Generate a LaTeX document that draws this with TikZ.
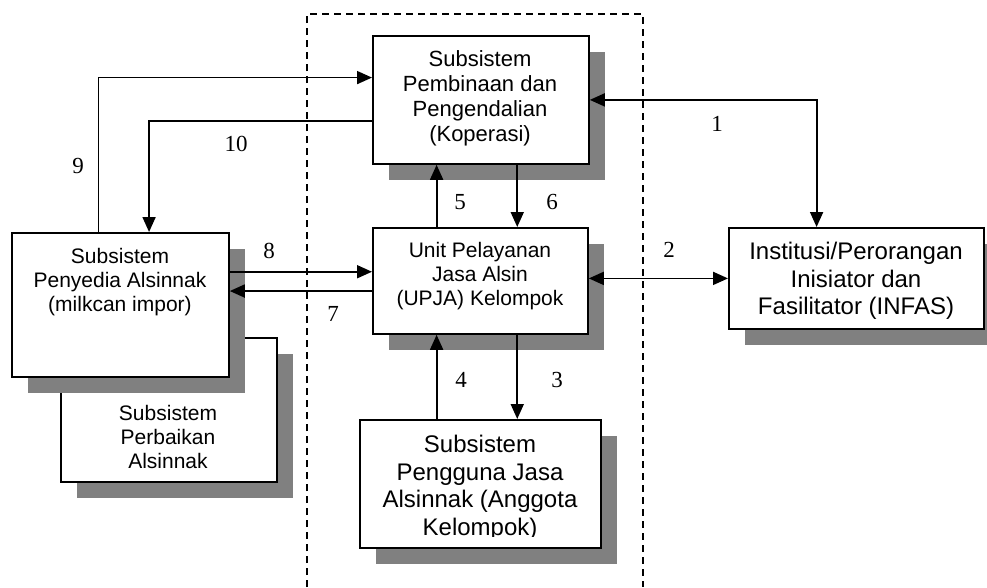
\documentclass[tikz,border=0pt]{standalone}
\usepackage{fontspec}
\setmainfont{Liberation Sans}
\newfontfamily\numfont{Liberation Serif}
\usetikzlibrary{arrows.meta,calc,shadows}
\definecolor{shadowgray}{HTML}{808080}
\begin{document}
\begin{tikzpicture}[x=1pt,y=-1pt,
  boxst/.style={draw,line width=1.8pt,fill=white,inner sep=0pt,anchor=north west,
    drop shadow={shadow xshift=16pt,shadow yshift=-16pt,fill=shadowgray,opacity=1}},
  txt/.style={align=center,inner sep=0pt},
  fa/.style={font=\fontsize{21}{24}\selectfont},
  fb/.style={font=\fontsize{22}{25}\selectfont},
  fc/.style={font=\fontsize{24}{27.5}\selectfont},
  arr/.style={line width=1.8pt,-{Triangle[length=15pt,width=13pt]}},
  darr/.style={line width=1.8pt,{Triangle[length=15pt,width=13pt]}-{Triangle[length=15pt,width=13pt]}},
  num/.style={font=\numfont\fontsize{23}{23}\selectfont,inner sep=0pt},
  dashbox/.style={line width=1.8pt,dash pattern=on 7pt off 5pt},
]
\useasboundingbox (0,0) rectangle (987,587);

% boxes
\node[boxst,minimum width=216pt,minimum height=128pt] (pemb) at (372,35) {};
\node[boxst,minimum width=215pt,minimum height=106pt] (unit) at (372,227) {};
\node[boxst,minimum width=255pt,minimum height=101pt] (infas) at (728,227) {};
\node[boxst,minimum width=241pt,minimum height=128pt] (peng) at (359,419) {};
\node[boxst,minimum width=216pt,minimum height=144pt] (perb) at (60,337) {};
\node[boxst,minimum width=217pt,minimum height=144pt] (peny) at (11,232) {};

% texts
\node[txt,fb] (pembt) at (480,98) {Subsistem\\Pembinaan dan\\Pengendalian\\(Koperasi)};
\node[txt,fa] (unitt) at (480,276.5) {Unit Pelayanan\\Jasa Alsin\\(UPJA) Kelompok};
\node[txt,fc] (infast) at (856,281) {Institusi/Perorangan\\Inisiator dan\\Fasilitator (INFAS)};
\node[txt,fa] (perbt) at (168,437) {Subsistem\\Perbaikan\\Alsinnak};
\node[txt,fa] (penyt) at (120,282) {Subsistem\\Penyedia Alsinnak\\(milkcan impor)};
\begin{scope}
\clip ([yshift=-1pt]peng.north west) rectangle ([yshift=12pt]peng.south east);
\node[txt,fc] (pengt) at (480,488) {Subsistem\\Pengguna Jasa\\Alsinnak (Anggota\\Kelompok)};
\end{scope}

% connector points
\coordinate (p9) at ($(peny.north west)!0.4!(peny.north east)$);
\coordinate (p10) at ($(peny.north west)!0.631!(peny.north east)$);
\coordinate (e9) at ($(pemb.north west)!0.328!(pemb.south west)$);
\coordinate (e10) at ($(pemb.north west)!0.664!(pemb.south west)$);
\coordinate (p1) at ($(infas.north west)!0.345!(infas.north east)$);
\coordinate (u5) at ($(unit.north west)!0.298!(unit.north east)$);
\coordinate (u6) at ($(unit.north west)!0.67!(unit.north east)$);
\coordinate (d4) at ($(unit.south west)!0.298!(unit.south east)$);
\coordinate (d3) at ($(unit.south west)!0.67!(unit.south east)$);
\coordinate (u8) at ($(unit.north west)!0.415!(unit.south west)$);
\coordinate (u7) at ($(unit.north west)!0.594!(unit.south west)$);

% connectors
\draw[arr] (p9) |- (e9);
\draw[arr] (e10) -| (p10);
\draw[darr] (pemb.east) -| (p1);
\draw[darr] (infas.west -| unit.east) -- (infas.west);
\draw[arr] (u5) -- (u5 |- pemb.south);
\draw[arr] (u6 |- pemb.south) -- (u6);
\draw[arr] (d4 |- peng.north) -- (d4);
\draw[arr] (d3) -- (d3 |- peng.north);
\draw[arr] (u8 -| peny.east) -- (u8);
\draw[arr] (u7) -- (u7 -| peny.east);

% dashed frame
\draw[dashbox] (307,587) -- (307,14) -- (643,14) -- (643,587);

% numbers
\node[num] (n1) at (717,124) {1};
\node[num] (n2) at (669,250) {2};
\node[num] (n3) at (557,380) {3};
\node[num] (n4) at (461,380) {4};
\node[num] (n5) at (460,202) {5};
\node[num] (n6) at (552,202) {6};
\node[num] (n7) at (333,314) {7};
\node[num] (n8) at (269,251) {8};
\node[num] (n9) at (78,166) {9};
\node[num] (n10) at (236,144) {10};
\end{tikzpicture}
\end{document}
